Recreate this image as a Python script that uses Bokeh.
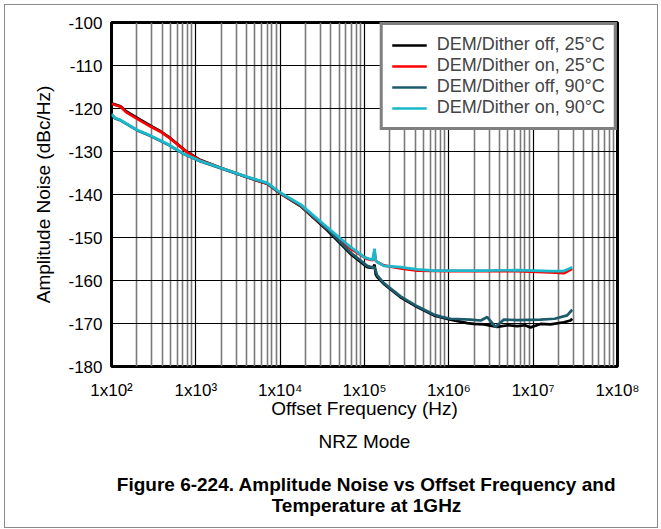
from bokeh.plotting import figure
from bokeh.layouts import column
from bokeh.models import (FixedTicker, Legend, LegendItem, Range1d)
from bokeh.core.properties import value
from bokeh.embed import file_html
from bokeh.resources import INLINE

# ---------------- data ----------------
series_names = ["DEM/Dither off, 25°C", "DEM/Dither on, 25°C",
                "DEM/Dither off, 90°C", "DEM/Dither on, 90°C"]
series_colors = ["#000000", "#ff0000", "#1d5c6c", "#1bb8cc"]

off25_f = [100, 128, 150, 202, 290, 381, 500, 789, 1135, 1963, 4064, 7015, 10090,
           17420, 36140, 68230, 107700, 125000, 131500, 136000, 141600, 169400,
           267300, 421700, 663700, 1.047e6, 1.652e6, 1.98e6, 2.6e6, 3.75e6, 5.0e6,
           6.47e6, 8.0e6, 9.3e6, 1.22e7, 1.607e7, 2.312e7, 2.77e7, 2.904e7]
off25_db = [-118.8, -119.5, -120.7, -122.2, -124.0, -125.3, -126.9, -130.1, -132.0,
            -133.8, -136.0, -137.5, -139.8, -142.7, -148.3, -153.8, -156.9, -157.1,
            -156.3, -158.6, -159.2, -160.8, -163.9, -166.2, -168.1, -169.1, -169.9,
            -170.1, -170.2, -170.8, -170.4, -170.6, -170.4, -170.9, -170.1, -170.2,
            -169.7, -169.3, -168.9]

on25_f = [100, 128, 150, 202, 290, 381, 500, 789, 1135, 1963, 4064, 7015, 10090,
          17420, 36140, 68230, 107700, 125000, 131500, 136000, 141600, 169400,
          267300, 421700, 1.047e6, 2.6e6, 6.47e6, 1.607e7, 2.312e7, 2.904e7]
on25_db = [-118.9, -119.6, -120.9, -122.4, -124.2, -125.4, -127.0, -130.2, -132.1,
           -133.8, -136.0, -137.5, -139.8, -142.6, -148.0, -152.6, -155.0, -155.3,
           -153.2, -155.4, -155.7, -156.5, -157.2, -157.7, -157.8, -157.8, -157.8,
           -158.1, -158.3, -157.3]

off90_f = [100, 110, 126, 153, 202, 290, 457, 719, 1135, 1963, 4064, 7015, 10090,
           17420, 36140, 68230, 107700, 125000, 131500, 141600, 169400, 267300,
           421700, 663700, 7.96e5, 1.047e6, 1.81e6, 2.4e6, 2.85e6, 3.57e6, 4.49e6,
           6.47e6, 1.22e7, 1.8e7, 2.53e7, 2.904e7]
off90_db = [-121.4, -122.3, -122.7, -123.7, -125.1, -126.4, -128.3, -130.6, -132.3,
            -133.9, -136.0, -137.4, -139.7, -142.5, -148.0, -153.5, -156.6, -157.0,
            -156.9, -158.8, -160.6, -163.7, -166.0, -167.9, -168.4, -168.9, -169.1,
            -169.3, -168.5, -170.8, -169.1, -169.2, -169.1, -168.9, -168.1, -166.8]

on90_f = [100, 110, 126, 153, 202, 290, 457, 719, 1135, 1963, 4064, 7015, 10090,
          17420, 36140, 68230, 100000, 125000, 131500, 136000, 141600, 169400,
          267300, 421700, 663700, 1.047e6, 2.6e6, 6.47e6, 1.607e7, 2.312e7, 2.904e7]
on90_db = [-121.3, -122.2, -122.6, -123.6, -125.0, -126.3, -128.2, -130.5, -132.2,
           -133.8, -135.9, -137.3, -139.6, -142.3, -147.6, -152.2, -154.6, -155.2,
           -152.6, -155.3, -155.7, -156.6, -156.9, -157.4, -157.7, -157.7, -157.7,
           -157.6, -157.8, -157.8, -156.9]

x_ticks = [1e2, 1e3, 1e4, 1e5, 1e6, 1e7, 1e8]
x_tick_labels = ["1x10²", "1x10³", "1x10⁴", "1x10⁵", "1x10⁶", "1x10⁷", "1x10⁸"]
y_ticks = [-100, -110, -120, -130, -140, -150, -160, -170, -180]
y_tick_labels = ["-100", "-110", "-120", "-130", "-140", "-150", "-160", "-170", "-180"]

x_title = "Offset Frequency (Hz)"
y_title = "Amplitude Noise (dBc/Hz)"
mode_text = "NRZ Mode"
caption_lines = ["Figure 6-224. Amplitude Noise vs Offset Frequency and",
                 "Temperature at 1GHz"]

FONT = "Liberation Sans"

# ---------------- main chart ----------------
W = 652
H1, H2 = 425, 97
FL, FR, FT, FB = 106, 612, 17, 361   # frame edges inside the canvas
p = figure(width=W, height=H1, x_axis_type="log",
           x_range=Range1d(1e2, 1e8), y_range=Range1d(-180, -100),
           output_backend="svg", toolbar_location=None,
           min_border_left=FL, min_border_right=W - FR,
           min_border_top=FT, min_border_bottom=H1 - FB)
p.background_fill_color = "white"
p.border_fill_color = "white"

minor = [m * 10 ** d for d in range(2, 8) for m in range(2, 10)]
p.xaxis.ticker = FixedTicker(ticks=x_ticks, minor_ticks=minor)
p.xaxis.major_label_overrides = {t: l for t, l in zip(x_ticks, x_tick_labels)}
p.yaxis.ticker = FixedTicker(ticks=y_ticks)
p.yaxis.major_label_overrides = {t: l for t, l in zip(y_ticks, y_tick_labels)}

for ax in (p.xaxis, p.yaxis):
    ax.axis_line_color = None
    ax.major_tick_line_color = None
    ax.minor_tick_line_color = None
    ax.major_tick_out = 0
    ax.minor_tick_out = 0
    ax.major_label_text_font = FONT
    ax.major_label_text_font_size = "17px"
    ax.major_label_text_color = "black"
    ax.axis_label_text_font = FONT
    ax.axis_label_text_font_size = "19px"
    ax.axis_label_text_font_style = "normal"
    ax.axis_label_text_color = "black"

p.yaxis.major_label_standoff = 9
p.yaxis.axis_label = y_title
p.yaxis.axis_label_standoff = 11

p.xaxis.major_label_standoff = 14
p.xaxis.axis_label = x_title
p.xaxis.axis_label_standoff = -5

p.xgrid.grid_line_color = "black"
p.xgrid.grid_line_width = 1.2
p.xgrid.minor_grid_line_color = "#7a7a7a"
p.xgrid.minor_grid_line_width = 1.6
p.ygrid.grid_line_color = "black"
p.ygrid.grid_line_width = 1.2

p.outline_line_color = "black"
p.outline_line_width = 3

renderers = []
for fx, dy, c in [(off25_f, off25_db, series_colors[0]),
                  (on25_f, on25_db, series_colors[1]),
                  (off90_f, off90_db, series_colors[2]),
                  (on90_f, on90_db, series_colors[3])]:
    renderers.append(p.line(fx, dy, line_color=c, line_width=2.7))

legend = Legend(items=[LegendItem(label=n, renderers=[r])
                       for n, r in zip(series_names, renderers)],
                location="top_right", margin=0, padding=9, spacing=0,
                glyph_width=35, glyph_height=20, label_height=20,
                label_standoff=10, label_text_font=FONT,
                label_text_font_size="18px",
                border_line_color="black", border_line_width=3,
                background_fill_alpha=1.0)
p.add_layout(legend)

# ---------------- caption strip ----------------
# The column aligns this strip's frame with the chart frame (FL..FR), so its
# x range is expressed in the same canvas pixels.
t = figure(width=W, height=H2, x_range=Range1d(FL, FR), y_range=Range1d(H2, 0),
           output_backend="svg", toolbar_location=None,
           x_axis_location=None, y_axis_location=None,
           min_border=0, outline_line_color=None)
t.grid.visible = False
t.background_fill_color = "white"
t.border_fill_color = "white"
t.text(x=[359], y=[11], text=[mode_text], text_font=value(FONT),
       text_font_size="19px", text_align="center", text_baseline="middle",
       text_color="black")
t.text(x=[361, 361], y=[54, 75], text=caption_lines, text_font=value(FONT),
       text_font_size="19px", text_font_style="bold", text_align="center",
       text_baseline="middle", text_color="black")

layout = column(p, t, spacing=0)
layout.styles = {"margin": "4px 0 0 4px", "border": "1px solid #8a8a8a"}

open("out.html", "w").write(file_html(layout, INLINE))
